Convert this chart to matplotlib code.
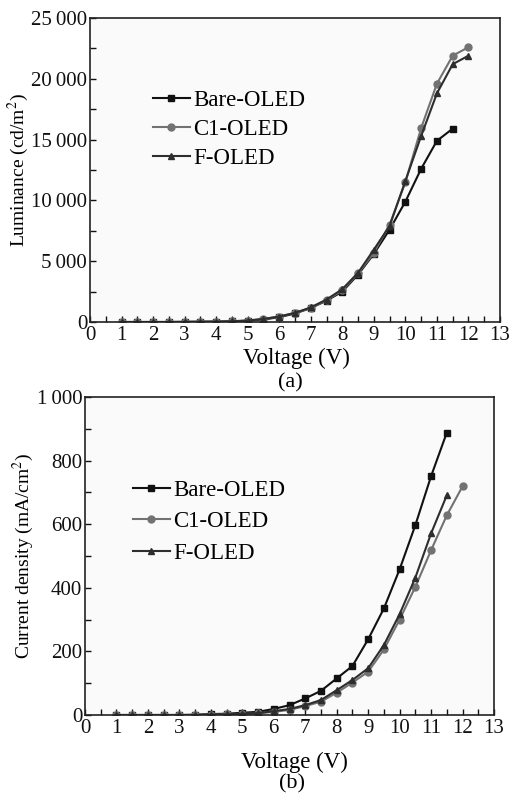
import matplotlib.pyplot as plt
from matplotlib.ticker import MultipleLocator, FuncFormatter

plt.rcParams['font.family'] = ['Liberation Serif', 'DejaVu Serif']
plt.rcParams['mathtext.fontset'] = 'stix'

# voltage points (V)
volt = [1, 1.5, 2, 2.5, 3, 3.5, 4, 4.5, 5, 5.5, 6, 6.5, 7, 7.5, 8, 8.5, 9, 9.5,
        10, 10.5, 11, 11.5, 12]

# luminance (cd/m2)
lum_bare = [0, 0, 0, 0, 10, 20, 30, 50, 100, 200, 400, 700, 1150, 1750, 2500,
            3900, 5600, 7600, 9900, 12600, 14900, 15900]
lum_c1 = [0, 0, 0, 0, 10, 20, 30, 60, 120, 250, 450, 750, 1150, 1800, 2600,
          4000, 5700, 8000, 11500, 15950, 19600, 21900, 22600]
lum_f = [0, 0, 0, 0, 10, 20, 30, 60, 120, 250, 450, 750, 1200, 1850, 2700,
         4050, 5950, 7900, 11600, 15300, 18800, 21200, 21900]

# current density (mA/cm2)
cd_bare = [0, 0, 0, 0, 0, 1, 3, 4, 7, 10, 19, 31, 52, 76, 115, 154, 238, 335,
           458, 597, 751, 888]
cd_c1 = [0, 0, 0, 0, 0, 0, 1, 2, 3, 5, 10, 16, 28, 42, 70, 102, 136, 206,
         300, 403, 518, 628, 719]
cd_f = [0, 0, 0, 0, 0, 0, 1, 2, 4, 6, 12, 19, 31, 47, 78, 110, 147, 220,
        317, 432, 571, 691]

series = ['Bare-OLED', 'C1-OLED', 'F-OLED']
colors = ['#111111', '#727272', '#2e2e2e']
markers = ['s', 'o', '^']

W, H = 512, 796


def thousands(v, pos):
    v = int(round(v))
    if v >= 1000:
        return '%d\u2009%03d' % (v // 1000, v % 1000)
    return str(v)


def style_axes(ax, ymax, ymajor, yminor):
    ax.set_facecolor('#fafafa')
    ax.set_xlim(0, 13)
    ax.set_ylim(0, ymax)
    ax.xaxis.set_major_locator(MultipleLocator(1))
    ax.xaxis.set_minor_locator(MultipleLocator(0.5))
    ax.yaxis.set_major_locator(MultipleLocator(ymajor))
    ax.yaxis.set_minor_locator(MultipleLocator(yminor))
    ax.yaxis.set_major_formatter(FuncFormatter(thousands))
    ax.tick_params(which='both', direction='in', length=4, width=1,
                   labelsize=15, colors='#111111', pad=2)
    ax.tick_params(axis='x', pad=3)
    for s in ax.spines.values():
        s.set_linewidth(1.2)
        s.set_color('#222222')


def legend(ax, x, y, spacing):
    ax.legend(loc='upper left', bbox_to_anchor=(x, y), frameon=False,
              fontsize=16.5, handlelength=1.6, handletextpad=0.15,
              labelspacing=spacing, borderaxespad=0, borderpad=0)


fig = plt.figure(figsize=(W / 100, H / 100), dpi=100)

# (a) luminance
ax1 = fig.add_axes([90 / W, 1 - 322 / H, 410 / W, 304 / H])
data_a = [lum_bare, lum_c1, lum_f]
for name, ys, c, m in zip(series, data_a, colors, markers):
    ax1.plot(volt[:len(ys)], ys, color=c, marker=m, markersize=5,
             linewidth=1.5, label=name)
style_axes(ax1, 25000, 5000, 2500)
ax1.set_ylabel('Luminance (cd/m$^2$)', fontsize=14)
ax1.yaxis.set_label_coords((31 - 90) / 410, 0.5)
legend(ax1, (153 - 90) / 410, (322 - 90) / 304, 0.35)
fig.text(296 / W, 1 - 358 / H, 'Voltage (V)', fontsize=16.5,
         ha='center', va='center')
fig.text(290 / W, 1 - 383 / H, '(a)', fontsize=16, ha='center', va='center')

# (b) current density
ax2 = fig.add_axes([85 / W, 1 - 715 / H, 409 / W, 318 / H])
data_b = [cd_bare, cd_c1, cd_f]
for name, ys, c, m in zip(series, data_b, colors, markers):
    ax2.plot(volt[:len(ys)], ys, color=c, marker=m, markersize=5,
             linewidth=1.5, label=name)
style_axes(ax2, 1000, 200, 100)
ax2.set_ylabel('Current density (mA/cm$^2$)', fontsize=14)
ax2.yaxis.set_label_coords((36 - 85) / 409, 0.5)
legend(ax2, (133 - 85) / 409, (715 - 480) / 318, 0.45)
fig.text(294 / W, 1 - 762 / H, 'Voltage (V)', fontsize=16.5,
         ha='center', va='center')
fig.text(292 / W, 1 - 784 / H, '(b)', fontsize=16, ha='center', va='center')

fig.savefig('out.png', dpi=100)
